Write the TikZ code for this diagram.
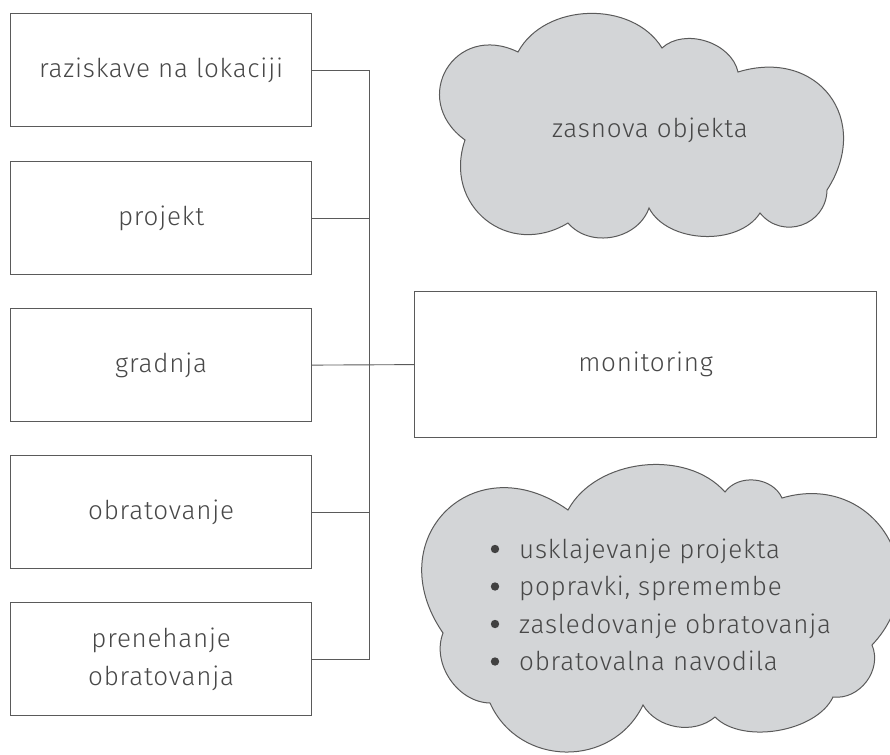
\documentclass[tikz,border=0pt]{standalone}
\usepackage{fontspec}
\setmainfont{Fira Sans}[UprightFont={* Light},LetterSpace=3]
\definecolor{txt}{HTML}{484848}
\definecolor{ln}{HTML}{5A5A5A}
\definecolor{cl}{HTML}{D3D5D7}
\begin{document}
\begin{tikzpicture}[x=1pt,y=-1pt,
  every node/.style={text=txt,font=\fontsize{26}{37.5}\selectfont},
  box/.style={draw=ln,line width=1.2pt,minimum width=301pt,minimum height=113pt,anchor=north west,inner sep=0pt,align=center},
  conn/.style={draw=ln,line width=0.9pt},
  cloudshape/.style={draw=ln,fill=cl,line width=1pt},
  item/.style={anchor=base west,inner sep=0pt},
  dot/.style={fill=txt!90!black}]
\useasboundingbox (0,0) rectangle (890,754);
% left boxes
\node[box] (b1) at (10,13) {raziskave na lokaciji};
\node[box] (b2) at (10,161) {projekt};
\node[box] (b3) at (10,308) {gradnja};
\node[box] (b4) at (10,455) {obratovanje};
\node[box] (b5) at (10,602) {prenehanje\\obratovanja};
\node[box,minimum width=462pt,minimum height=146pt] (mon) at (414,291) {monitoring};
% bus
\coordinate (bt) at (369,0);
\draw[conn] (b1.east) -- (b1.east -| bt) -- (b5.east -| bt) -- (b5.east);
\draw[conn] (b2.east) -- (b2.east -| bt);
\draw[conn] (b4.east) -- (b4.east -| bt);
\draw[conn] (b3.east) -- (mon.west);
% cloud 1
\path[cloudshape] (518,52) to[bend left=60,looseness=1.0] (662,48)
  to[bend left=60,looseness=0.98] (738,72)
  to[bend left=70,looseness=1.45] (827,190)
  to[bend left=70,looseness=1.28] (760,213)
  to[bend left=60,looseness=0.92] (649,208)
  to[bend left=60,looseness=1.05] (568,223)
  to[bend left=70,looseness=1.35] (465,140)
  to[bend left=85,looseness=1.75] (518,52) -- cycle;
\node (c1) at (650,130) {zasnova objekta};
% cloud 2
\path[cloudshape] (568,510) to[bend left=55,looseness=0.95] (725,492)
  to[bend left=60,looseness=1.03] (782,498)
  to[bend left=75,looseness=1.43] (872,645)
  to[bend left=60,looseness=1.06] (833,697)
  to[bend left=55,looseness=0.83] (715,717)
  to[bend left=50,looseness=0.97] (643,705)
  to[bend left=65,looseness=1.18] (490,703)
  to[bend left=55,looseness=0.99] (443,633)
  to[bend left=80,looseness=1.68] (568,510) -- cycle;
\node[item] (l1) at (519,558) {usklajevanje projekta};
\node[item] (l2) at (519,595.5) {popravki, spremembe};
\node[item] (l3) at (519,633) {zasledovanje obratovanja};
\node[item] (l4) at (519,670.5) {obratovalna navodila};
\foreach \l in {l1,l2,l3,l4}
  \fill[dot] ([xshift=-24pt,yshift=9pt]\l.base west) circle (4.2pt);
\end{tikzpicture}
\end{document}
